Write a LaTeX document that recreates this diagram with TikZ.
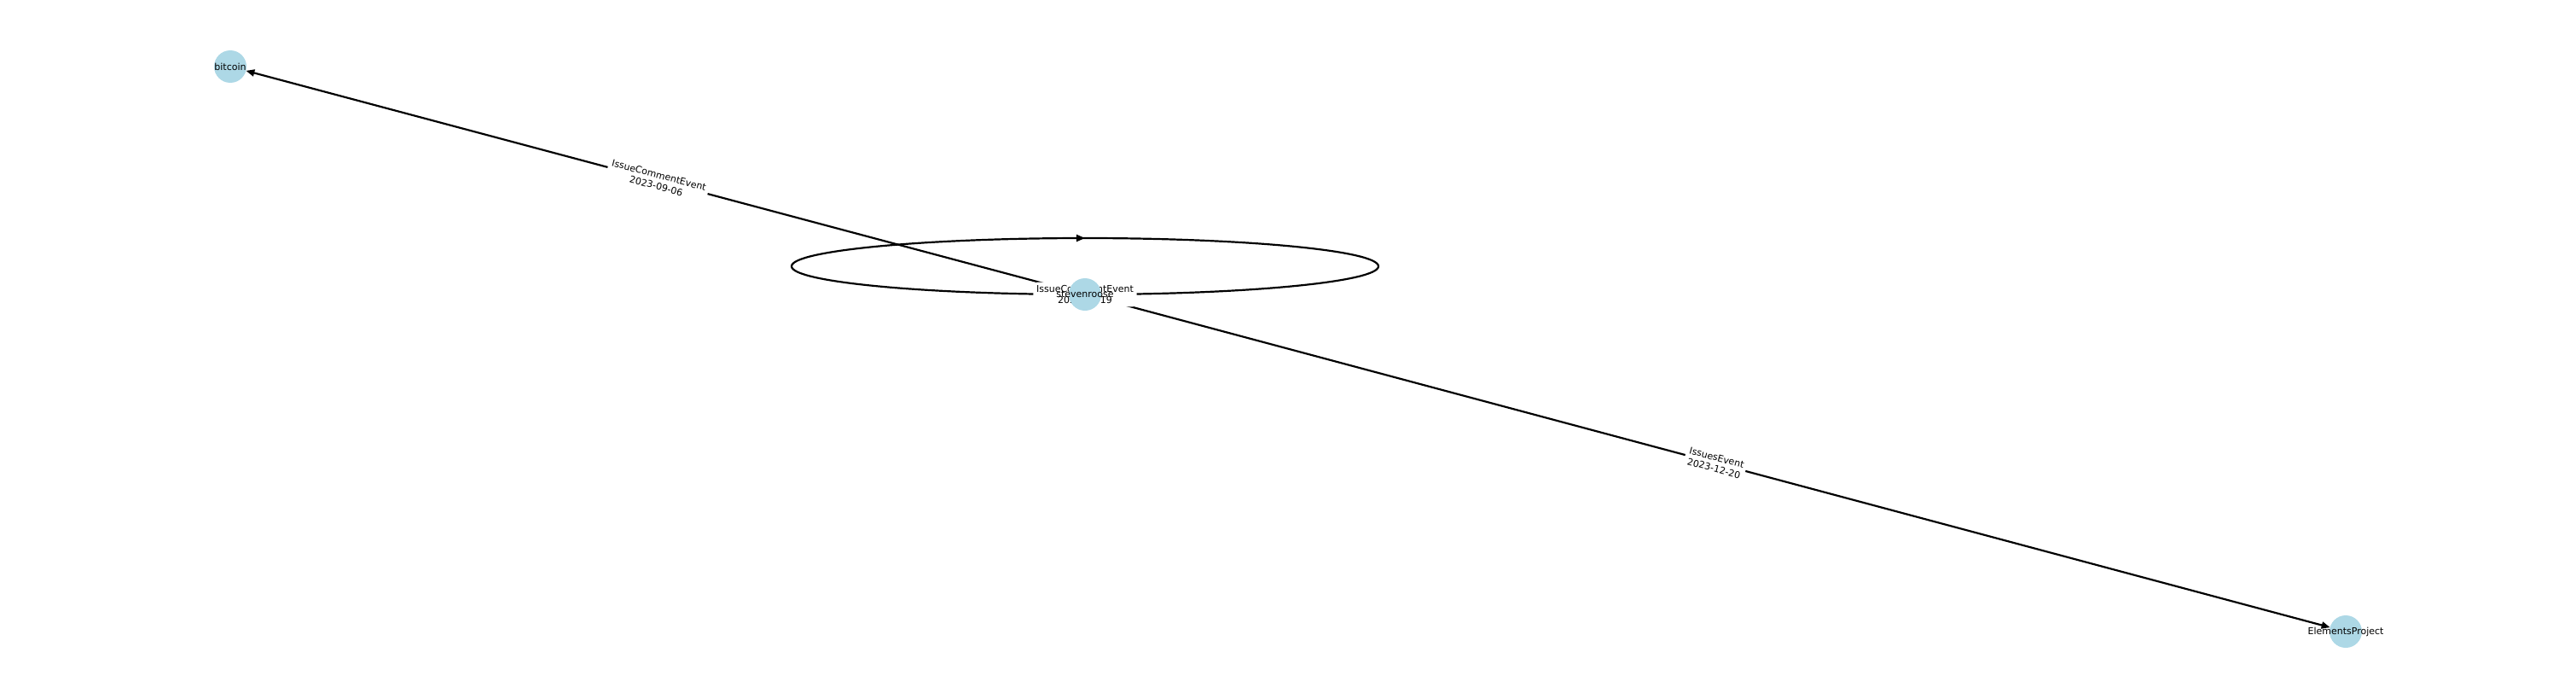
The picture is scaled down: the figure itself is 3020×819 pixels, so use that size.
\documentclass[tikz,border=0pt]{standalone}
\usepackage{fontspec}
\setmainfont{DejaVu Sans}
\usetikzlibrary{arrows.meta,decorations.markings}
\definecolor{nodeblue}{RGB}{173,216,230}
\begin{document}
\begin{tikzpicture}[x=0.5pt,y=-0.5pt,
  vshape/.style={circle,minimum size=19pt,inner sep=0pt,outer sep=0pt},
  vertex/.style={circle,fill=nodeblue,minimum size=19pt,inner sep=0pt,outer sep=0pt},
  vtext/.style={inner sep=0pt,font=\fontsize{5.5}{6.5}\selectfont},
  edge/.style={line width=1.1pt,-{Triangle[length=5pt,width=4pt]}},
  elabel/.style={fill=white,rounded corners=2pt,inner sep=1.8pt,align=center,font=\fontsize{5.5}{6.5}\selectfont}
]
\useasboundingbox (0,0) rectangle (3020,819);
% node shapes (for edge ends)
\node[vshape] (s) at (1272,345) {};
\node[vshape] (b) at (270,78) {};
\node[vshape] (e) at (2750,740) {};
% edges
\draw[edge] (s) -- node[elabel,sloped] (lb) {IssueCommentEvent\\2023-09-06} (b);
\draw[edge] (s) -- node[elabel,sloped] (le) {IssuesEvent\\2023-12-20} (e);
% self loop
\draw[line width=1.1pt,postaction={decorate},
  decoration={markings,mark=at position 0.5 with {\arrow{Triangle[length=5pt,width=4pt]}}}]
  (s.center) arc[start angle=270,end angle=-90,x radius=172pt,y radius=16.5pt];
\node[elabel] (ls) at (s.center) {IssueCommentEvent\\2023-12-19};
% nodes
\node[vertex] (sv) at (s.center) {};
\node[vertex] (bv) at (b.center) {};
\node[vertex] (ev) at (e.center) {};
\node[vtext] (st) at (s.center) {stevenroose};
\node[vtext] (bt) at (b.center) {bitcoin};
\node[vtext] (et) at (e.center) {ElementsProject};
\end{tikzpicture}
\end{document}
